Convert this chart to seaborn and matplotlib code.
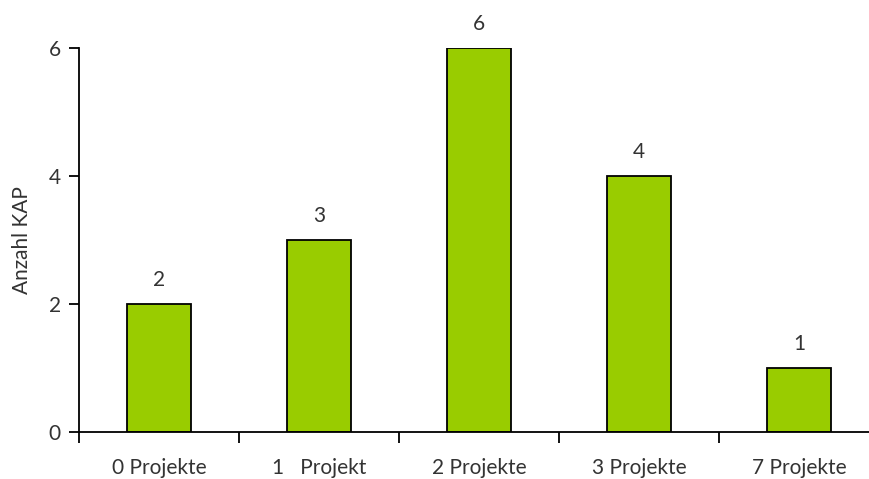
import matplotlib
matplotlib.use("Agg")
import matplotlib.pyplot as plt
import seaborn as sns
import pandas as pd
import numpy as np

categories = ["0 Projekte", "1   Projekt", "2 Projekte", "3 Projekte", "7 Projekte"]
counts = [2, 3, 6, 4, 1]
y_ticks = [0, 2, 4, 6]

sns.set_theme(style="white")
plt.rcParams["font.family"] = ["Lato", "DejaVu Sans"]

df = pd.DataFrame({"Kategorie": categories, "Anzahl": counts})

fig = plt.figure(figsize=(8.69, 4.79), dpi=100)
# axis spans one category width per 160 px; the right end runs past the canvas
ax = fig.add_axes([79 / 869, 1 - 432 / 479, 800 / 869, (432 - 48) / 479])

sns.barplot(data=df, x="Kategorie", y="Anzahl", color="#99CC00",
            edgecolor="black", linewidth=1.3, width=0.405, saturation=1, ax=ax)

ax.set_xlim(-0.5, len(categories) - 0.5)
ax.set_ylim(0, 6)
ax.set_yticks(y_ticks)
ax.set_yticklabels([str(t) for t in y_ticks], fontsize=15, color="#333333")

# category labels at centres, tick marks between categories
ax.set_xticks(range(len(categories)))
ax.set_xticklabels(categories, fontsize=15, color="#333333")
ax.set_xticks(np.arange(-0.5, len(categories), 1), minor=True)
ax.tick_params(axis="x", which="major", length=0, pad=19, bottom=True)
ax.tick_params(axis="x", which="minor", direction="out", length=8, width=1.3,
               color="black", bottom=True)
ax.tick_params(axis="y", direction="out", length=7, width=1.3, color="black", pad=6, left=True)

for side in ["top", "right"]:
    ax.spines[side].set_visible(False)
for side in ["left", "bottom"]:
    ax.spines[side].set_color("black")
    ax.spines[side].set_linewidth(1.3)

ax.set_xlabel("")
ax.set_ylabel("Anzahl KAP", fontsize=15, color="#333333", labelpad=12)

for i, v in enumerate(counts):
    ax.text(i, v + 0.22, str(v), ha="center", va="bottom", fontsize=15, color="#333333")

fig.savefig("out.png", dpi=100)
